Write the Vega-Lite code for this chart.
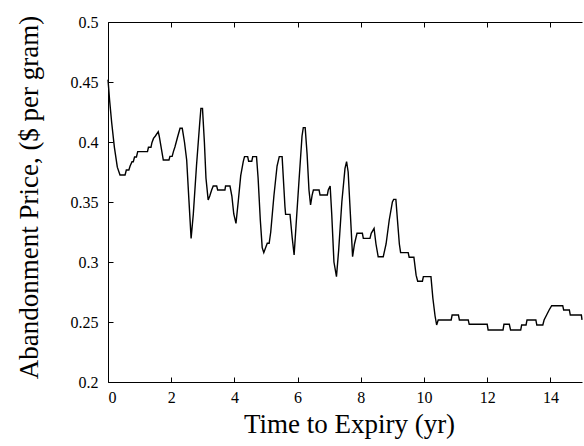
{
  "$schema": "https://vega.github.io/schema/vega-lite/v6.json",
  "width": 474,
  "height": 360,
  "autosize": {"type": "none"},
  "padding": {"left": 108, "top": 22, "right": 2, "bottom": 64},
  "config": {
    "view": {"stroke": null},
    "axis": {
      "grid": false,
      "domainColor": "black",
      "domainWidth": 1,
      "tickColor": "black",
      "tickWidth": 1,
      "labelFont": "Liberation Serif",
      "labelFontSize": 16,
      "labelColor": "black",
      "titleFont": "Liberation Serif",
      "titleFontSize": 27,
      "titleFontWeight": "normal",
      "titleColor": "black"
    }
  },
  "data": {
    "values": [
      {"t": 0, "v": 0.452}, {"t": 0.05, "v": 0.435}, {"t": 0.117, "v": 0.416}, {"t": 0.2, "v": 0.396},
      {"t": 0.295, "v": 0.379}, {"t": 0.38, "v": 0.3725}, {"t": 0.54, "v": 0.3725}, {"t": 0.58, "v": 0.3767},
      {"t": 0.66, "v": 0.3767}, {"t": 0.7, "v": 0.38}, {"t": 0.76, "v": 0.3836}, {"t": 0.8, "v": 0.3836},
      {"t": 0.84, "v": 0.3875}, {"t": 0.9, "v": 0.3875}, {"t": 0.94, "v": 0.392}, {"t": 1.25, "v": 0.392},
      {"t": 1.28, "v": 0.3956}, {"t": 1.36, "v": 0.3956}, {"t": 1.39, "v": 0.3994}, {"t": 1.44, "v": 0.403},
      {"t": 1.5, "v": 0.405}, {"t": 1.59, "v": 0.4086}, {"t": 1.62, "v": 0.405}, {"t": 1.75, "v": 0.385},
      {"t": 1.93, "v": 0.385}, {"t": 1.96, "v": 0.388}, {"t": 2.03, "v": 0.388}, {"t": 2.07, "v": 0.392},
      {"t": 2.12, "v": 0.396}, {"t": 2.2, "v": 0.404}, {"t": 2.28, "v": 0.4114}, {"t": 2.35, "v": 0.4114},
      {"t": 2.42, "v": 0.4}, {"t": 2.49, "v": 0.385}, {"t": 2.56, "v": 0.352}, {"t": 2.63, "v": 0.3197},
      {"t": 2.7, "v": 0.34}, {"t": 2.8, "v": 0.38}, {"t": 2.9, "v": 0.415}, {"t": 2.94, "v": 0.428},
      {"t": 2.99, "v": 0.428}, {"t": 3.05, "v": 0.4}, {"t": 3.1, "v": 0.37}, {"t": 3.17, "v": 0.3517},
      {"t": 3.22, "v": 0.355}, {"t": 3.28, "v": 0.36}, {"t": 3.33, "v": 0.3633}, {"t": 3.44, "v": 0.3633},
      {"t": 3.47, "v": 0.36}, {"t": 3.7, "v": 0.36}, {"t": 3.72, "v": 0.3633}, {"t": 3.86, "v": 0.3633},
      {"t": 3.92, "v": 0.355}, {"t": 3.98, "v": 0.34}, {"t": 4.05, "v": 0.3322}, {"t": 4.12, "v": 0.35},
      {"t": 4.2, "v": 0.372}, {"t": 4.28, "v": 0.3836}, {"t": 4.32, "v": 0.3878}, {"t": 4.42, "v": 0.3878},
      {"t": 4.45, "v": 0.384}, {"t": 4.55, "v": 0.384}, {"t": 4.58, "v": 0.3878}, {"t": 4.7, "v": 0.3878},
      {"t": 4.75, "v": 0.37}, {"t": 4.82, "v": 0.335}, {"t": 4.88, "v": 0.312}, {"t": 4.93, "v": 0.3078},
      {"t": 4.99, "v": 0.312}, {"t": 5.04, "v": 0.3156}, {"t": 5.1, "v": 0.3156}, {"t": 5.15, "v": 0.325},
      {"t": 5.25, "v": 0.355}, {"t": 5.35, "v": 0.38}, {"t": 5.42, "v": 0.3878}, {"t": 5.51, "v": 0.3878},
      {"t": 5.57, "v": 0.36}, {"t": 5.6, "v": 0.346}, {"t": 5.62, "v": 0.3397}, {"t": 5.76, "v": 0.3397},
      {"t": 5.83, "v": 0.32}, {"t": 5.89, "v": 0.3058}, {"t": 5.95, "v": 0.33}, {"t": 6.05, "v": 0.37},
      {"t": 6.14, "v": 0.405}, {"t": 6.18, "v": 0.412}, {"t": 6.24, "v": 0.412}, {"t": 6.3, "v": 0.39},
      {"t": 6.36, "v": 0.36}, {"t": 6.41, "v": 0.3475}, {"t": 6.46, "v": 0.3558}, {"t": 6.5, "v": 0.36},
      {"t": 6.68, "v": 0.36}, {"t": 6.71, "v": 0.3558}, {"t": 6.94, "v": 0.3558}, {"t": 6.97, "v": 0.36},
      {"t": 7.03, "v": 0.3633}, {"t": 7.08, "v": 0.34}, {"t": 7.15, "v": 0.3}, {"t": 7.23, "v": 0.2878},
      {"t": 7.3, "v": 0.31}, {"t": 7.4, "v": 0.35}, {"t": 7.5, "v": 0.378}, {"t": 7.55, "v": 0.3836},
      {"t": 7.6, "v": 0.375}, {"t": 7.67, "v": 0.34}, {"t": 7.74, "v": 0.3044}, {"t": 7.8, "v": 0.315},
      {"t": 7.88, "v": 0.3239}, {"t": 8.05, "v": 0.3239}, {"t": 8.08, "v": 0.3197}, {"t": 8.29, "v": 0.3197},
      {"t": 8.33, "v": 0.3239}, {"t": 8.42, "v": 0.328}, {"t": 8.48, "v": 0.315}, {"t": 8.55, "v": 0.3044},
      {"t": 8.71, "v": 0.3044}, {"t": 8.8, "v": 0.315}, {"t": 8.9, "v": 0.335}, {"t": 9.0, "v": 0.35},
      {"t": 9.04, "v": 0.3522}, {"t": 9.11, "v": 0.3522}, {"t": 9.16, "v": 0.335}, {"t": 9.22, "v": 0.315},
      {"t": 9.26, "v": 0.3078}, {"t": 9.5, "v": 0.3078}, {"t": 9.53, "v": 0.304}, {"t": 9.68, "v": 0.304},
      {"t": 9.75, "v": 0.289}, {"t": 9.8, "v": 0.284}, {"t": 9.95, "v": 0.284}, {"t": 9.98, "v": 0.2878},
      {"t": 10.22, "v": 0.2878}, {"t": 10.28, "v": 0.27}, {"t": 10.35, "v": 0.255}, {"t": 10.4, "v": 0.2475},
      {"t": 10.45, "v": 0.2517}, {"t": 10.86, "v": 0.2517}, {"t": 10.89, "v": 0.2558}, {"t": 11.09, "v": 0.2558},
      {"t": 11.12, "v": 0.2517}, {"t": 11.4, "v": 0.2517}, {"t": 11.43, "v": 0.2481}, {"t": 12.0, "v": 0.2481},
      {"t": 12.03, "v": 0.2433}, {"t": 12.5, "v": 0.2433}, {"t": 12.53, "v": 0.2481}, {"t": 12.7, "v": 0.2481},
      {"t": 12.74, "v": 0.2433}, {"t": 13.06, "v": 0.2433}, {"t": 13.09, "v": 0.2475}, {"t": 13.23, "v": 0.2475},
      {"t": 13.26, "v": 0.2517}, {"t": 13.54, "v": 0.2517}, {"t": 13.57, "v": 0.2475}, {"t": 13.76, "v": 0.2475},
      {"t": 13.8, "v": 0.2517}, {"t": 13.88, "v": 0.2558}, {"t": 13.96, "v": 0.26}, {"t": 14.04, "v": 0.2636},
      {"t": 14.39, "v": 0.2636}, {"t": 14.42, "v": 0.26}, {"t": 14.6, "v": 0.26}, {"t": 14.63, "v": 0.2558},
      {"t": 14.98, "v": 0.2558}, {"t": 15.0, "v": 0.2517}
    ]
  },
  "layer": [
    {
      "mark": {"type": "line", "color": "black", "strokeWidth": 1.4},
      "encoding": {
        "x": {
          "field": "t", "type": "quantitative",
          "scale": {"domain": [0, 15], "nice": false, "zero": false},
          "axis": {
            "orient": "bottom",
            "title": "Time to Expiry (yr)",
            "values": [0, 2, 4, 6, 8, 10, 12, 14],
            "format": "~g",
            "ticks": false,
            "labelPadding": 7,
            "titleX": 241, "titleY": 50,
            "titleAlign": "center", "titleBaseline": "alphabetic"
          }
        },
        "y": {
          "field": "v", "type": "quantitative",
          "scale": {"domain": [0.2, 0.5], "nice": false, "zero": false},
          "axis": {
            "orient": "left",
            "title": "Abandonment Price, ($ per gram)",
            "values": [0.2, 0.25, 0.3, 0.35, 0.4, 0.45, 0.5],
            "format": "~g",
            "ticks": false,
            "labelPadding": 10,
            "titleX": -71, "titleY": 175,
            "titleAngle": -90,
            "titleAlign": "center", "titleBaseline": "alphabetic"
          }
        }
      }
    },
    {
      "mark": {"type": "line", "opacity": 0},
      "encoding": {
        "x": {
          "field": "t", "type": "quantitative",
          "scale": {"domain": [0, 15], "nice": false, "zero": false},
          "axis": {"orient": "bottom", "labels": false, "title": null, "domain": false, "tickSize": -5, "values": [0, 2, 4, 6, 8, 10, 12, 14]}
        },
        "y": {
          "field": "v", "type": "quantitative",
          "scale": {"domain": [0.2, 0.5], "nice": false, "zero": false},
          "axis": {"orient": "left", "labels": false, "title": null, "domain": false, "tickSize": -5, "values": [0.2, 0.25, 0.3, 0.35, 0.4, 0.45, 0.5]}
        }
      }
    },
    {
      "mark": {"type": "line", "opacity": 0},
      "encoding": {
        "x": {
          "field": "t", "type": "quantitative",
          "scale": {"domain": [0, 15], "nice": false, "zero": false},
          "axis": {"orient": "top", "labels": false, "title": null, "tickSize": -5, "values": [0, 2, 4, 6, 8, 10, 12, 14]}
        },
        "y": {
          "field": "v", "type": "quantitative",
          "scale": {"domain": [0.2, 0.5], "nice": false, "zero": false},
          "axis": null
        }
      }
    }
  ],
  "resolve": {"axis": {"x": "independent", "y": "independent"}}
}
